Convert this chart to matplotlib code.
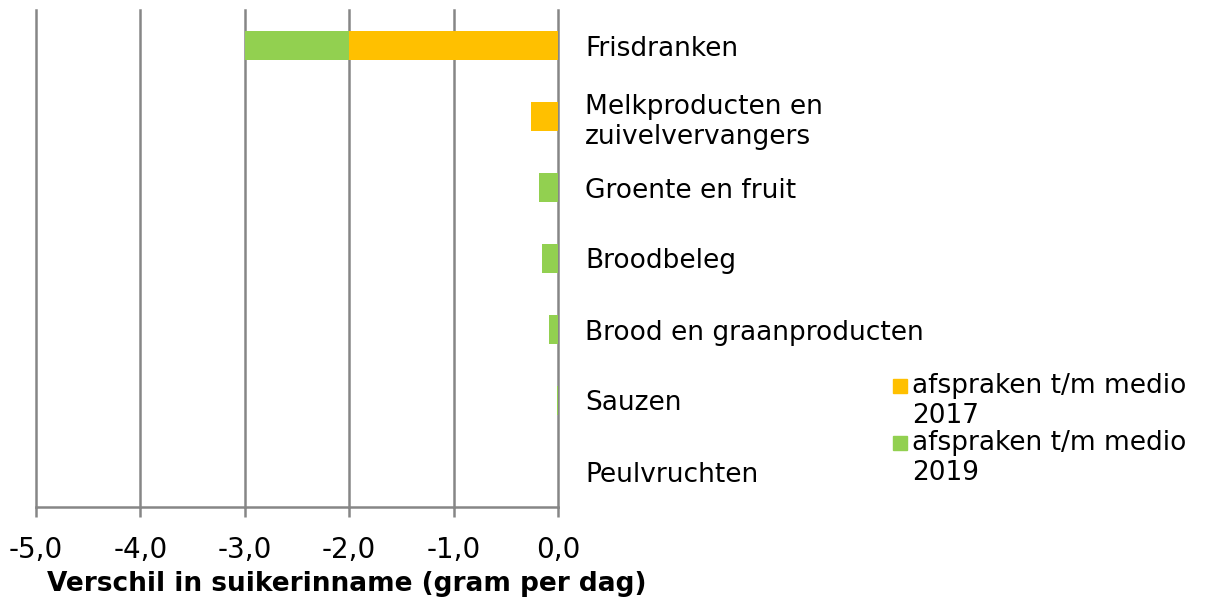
import matplotlib
matplotlib.use("Agg")
import matplotlib.pyplot as plt
from matplotlib.patches import Rectangle

# categories top -> bottom
categories = ["Frisdranken", "Melkproducten en\nzuivelvervangers", "Groente en fruit",
              "Broodbeleg", "Brood en graanproducten", "Sauzen", "Peulvruchten"]
medio_2017 = [-2.0, -0.26, 0.0, 0.0, 0.0, 0.0, 0.0]
medio_2019 = [-1.0, 0.0, -0.18, -0.15, -0.09, -0.01, 0.0]
series_labels = ["afspraken t/m medio\n2017", "afspraken t/m medio\n2019"]
colors = ["#FFC000", "#92D050"]
xticks = [-5, -4, -3, -2, -1, 0]

grid_col = "#868686"
fs = 19

fig = plt.figure(figsize=(12.12, 5.98), dpi=100)
ax = fig.add_axes([36 / 1212, 91 / 598, 522 / 1212, 497 / 598])

y = list(range(len(categories)))
ax.barh(y, medio_2017, height=0.4, color=colors[0], zorder=3)
ax.barh(y, medio_2019, left=medio_2017, height=0.4, color=colors[1], zorder=3)

ax.set_xlim(-5, 0)
ax.set_ylim(len(categories) - 0.5, -0.5)
ax.set_xticks(xticks)
ax.set_xticklabels([f"{v:.1f}".replace(".", ",") for v in xticks], fontsize=20)
for v in xticks:
    ax.axvline(v, color=grid_col, lw=1.8, zorder=1, clip_on=False)

ax.set_yticks(y)
ax.set_yticklabels(categories, fontsize=fs, linespacing=1.25)
ax.yaxis.tick_right()
ax.tick_params(axis="y", length=0, pad=19.5)
ax.tick_params(axis="x", length=7, width=1.8, color=grid_col, pad=14)

for s in ["top", "left", "right"]:
    ax.spines[s].set_visible(False)
ax.spines["bottom"].set_color(grid_col)
ax.spines["bottom"].set_linewidth(1.8)

fig.text(47 / 1212, 1 - 584 / 598, "Verschil in suikerinname (gram per dag)",
         fontsize=fs, fontweight="bold", ha="left", va="center")

# legend (manual)
leg_y = [386, 443]
for lab, col, yy in zip(series_labels, colors, leg_y):
    fig.add_artist(Rectangle((893 / 1212, 1 - (yy + 7) / 598), 14 / 1212, 14 / 598,
                             transform=fig.transFigure, color=col))
    fig.text(912 / 1212, 1 - (yy - 13) / 598, lab, fontsize=fs, ha="left", va="top",
             linespacing=1.2)

fig.savefig("out.png", dpi=100)
